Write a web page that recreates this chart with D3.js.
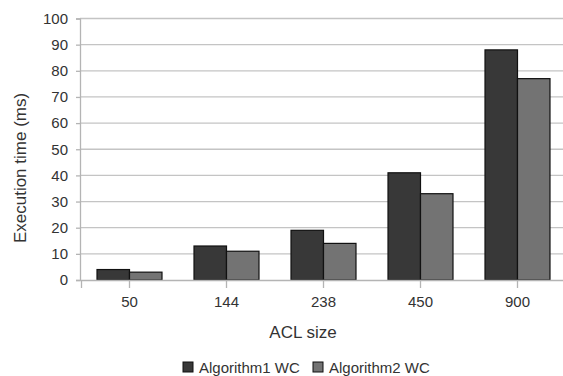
<!DOCTYPE html>
<html>
<head>
<meta charset="utf-8">
<script src="https://cdn.jsdelivr.net/npm/d3@7"></script>
<style>
html,body{margin:0;padding:0;background:#fff;}
svg{display:block;font-family:"Liberation Sans",Arial,sans-serif;}
</style>
</head>
<body>
<svg id="c" width="563" height="376"></svg>
<script>
const categories = ["50", "144", "238", "450", "900"];
const seriesNames = ["Algorithm1 WC", "Algorithm2 WC"];
const algorithm1 = [4, 13, 19, 41, 88];
const algorithm2 = [3, 11, 14, 33, 77];
const yTicks = [0, 10, 20, 30, 40, 50, 60, 70, 80, 90, 100];
const colors = ["#383838", "#737373"];

const svg = d3.select("#c");
const x = d3.scaleBand().domain(categories).range([81, 566]).paddingInner(0.33).paddingOuter(0.165);
const xs = d3.scaleBand().domain([0, 1]).range([0, x.bandwidth()]);
const y = d3.scaleLinear().domain([0, 100]).range([280, 18.5]);

// gridlines
svg.append("g").selectAll("line").data(yTicks.filter(d => d > 0)).join("line")
  .attr("x1", 80).attr("x2", 566)
  .attr("y1", d => y(d)).attr("y2", d => y(d))
  .attr("stroke", "#c4c4c4").attr("stroke-width", 1.3);

// y axis
const yAxis = svg.append("g").attr("transform", "translate(80,0)")
  .call(d3.axisLeft(y).tickValues(yTicks).tickSize(4).tickPadding(8));
yAxis.select(".domain").attr("stroke", "#b4b4b4").attr("stroke-width", 1.3);
yAxis.selectAll(".tick line").attr("stroke", "#b4b4b4").attr("stroke-width", 1.3);
yAxis.selectAll("text").attr("font-size", 15).attr("fill", "#333").attr("font-family", "Liberation Sans, Arial, sans-serif");

// bars
const data = [algorithm1, algorithm2];
data.forEach((vals, si) => {
  svg.append("g").selectAll("rect").data(categories).join("rect")
    .attr("x", (c) => x(c) + xs(si))
    .attr("width", xs.bandwidth())
    .attr("y", (c, i) => y(vals[i]))
    .attr("height", (c, i) => y(0) - y(vals[i]))
    .attr("fill", colors[si])
    .attr("stroke", "#111").attr("stroke-width", 1.2);
});

// x axis
const xAxis = svg.append("g").attr("transform", "translate(0,280)")
  .call(d3.axisBottom(x).tickSize(8).tickPadding(8));
xAxis.select(".domain").attr("stroke", "#b4b4b4").attr("stroke-width", 1.3);
xAxis.selectAll(".tick line").attr("stroke", "#b4b4b4").attr("stroke-width", 1.3);
xAxis.selectAll("text").attr("font-size", 15).attr("fill", "#333").attr("font-family", "Liberation Sans, Arial, sans-serif");

// axis titles
svg.append("text").attr("x", 303).attr("y", 338).attr("text-anchor", "middle")
  .attr("font-size", 17).attr("fill", "#333").text("ACL size");
svg.append("text").attr("transform", "translate(26,168) rotate(-90)").attr("text-anchor", "middle")
  .attr("font-size", 17).attr("fill", "#333").text("Execution time (ms)");

// legend
const legX = [183, 313];
seriesNames.forEach((n, i) => {
  svg.append("rect").attr("x", legX[i]).attr("y", 362).attr("width", 10).attr("height", 10)
    .attr("fill", colors[i]).attr("stroke", "#111").attr("stroke-width", 1);
  svg.append("text").attr("x", legX[i] + 16).attr("y", 373).attr("font-size", 15)
    .attr("fill", "#333").text(n);
});
</script>
</body>
</html>
